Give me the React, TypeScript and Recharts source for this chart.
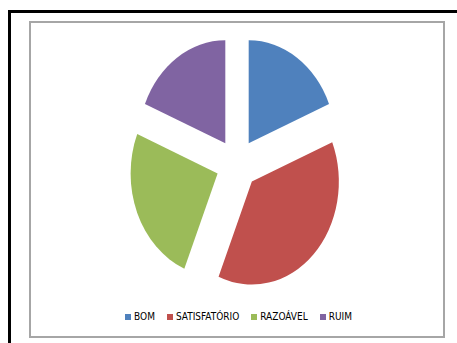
import React from 'react';
import { PieChart, Pie, Cell, Legend, Sector } from 'recharts';

const categories = ['BOM', 'SATISFATÓRIO', 'RAZOÁVEL', 'RUIM'];
const values = [3, 6, 4, 3];
const colors = ['#4F81BD', '#C0504D', '#9BBB59', '#8064A2'];

const data = categories.map((name, i) => ({ name, value: values[i] }));

const RX = 87;
const SY = 103 / 87;
const OFF = 21;
const RAD = Math.PI / 180;

const ExplodedSlice = (props: any) => {
  const { cx, cy, midAngle, innerRadius, outerRadius, startAngle, endAngle, fill } = props;
  const dx = OFF * Math.cos(-midAngle * RAD);
  const dy = OFF * Math.sin(-midAngle * RAD);
  return (
    <g transform={`translate(${cx} ${cy}) scale(1 ${SY}) translate(${-cx} ${-cy})`}>
      <Sector
        cx={cx + dx}
        cy={cy + dy}
        innerRadius={innerRadius}
        outerRadius={outerRadius}
        startAngle={startAngle}
        endAngle={endAngle}
        fill={fill}
        stroke="none"
      />
    </g>
  );
};

const LegendContent = (props: any) => {
  const payload = [...(props.payload || [])].sort(
    (a: any, b: any) => categories.indexOf(a.value) - categories.indexOf(b.value)
  );
  return (
    <div
      style={{
        display: 'flex',
        justifyContent: 'center',
        alignItems: 'center',
        fontFamily: '"Liberation Sans Narrow", "DejaVu Sans Condensed", sans-serif',
        fontSize: 10,
        color: '#000',
      }}
    >
      {payload.map((p: any, i: number) => (
        <span key={i} style={{ display: 'inline-flex', alignItems: 'center', marginRight: i < payload.length - 1 ? 12 : 0 }}>
          <span style={{ display: 'inline-block', width: 6, height: 6, background: p.color, marginRight: 3 }} />
          <span>{p.value}</span>
        </span>
      ))}
    </div>
  );
};

export default function App() {
  return (
    <div style={{ position: 'absolute', left: 0, top: 0, width: 457, height: 343, overflow: 'hidden', background: '#fff' }}>
      <div
        style={{
          position: 'absolute',
          left: 8,
          top: 10,
          width: 470,
          height: 360,
          border: '3px solid #000',
          boxSizing: 'border-box',
        }}
      />
      <div
        style={{
          position: 'absolute',
          left: 29,
          top: 21,
          width: 416,
          height: 317,
          border: '2px solid #a6a6a6',
          boxSizing: 'border-box',
        }}
      />
      <div style={{ position: 'absolute', left: 0, top: 0 }}>
        <PieChart width={457} height={343} margin={{ top: 0, right: 0, bottom: 0, left: 0 }}>
          <Pie
            data={data}
            dataKey="value"
            nameKey="name"
            cx={237}
            cy={164}
            outerRadius={RX}
            innerRadius={0}
            startAngle={90}
            endAngle={-270}
            stroke="none"
            isAnimationActive={false}
            shape={ExplodedSlice}
          >
            {data.map((d, i) => (
              <Cell key={d.name} fill={colors[i]} />
            ))}
          </Pie>
          <Legend
            content={<LegendContent />}
            wrapperStyle={{ position: 'absolute', left: 0, top: 311, width: 477 }}
          />
        </PieChart>
      </div>
    </div>
  );
}
